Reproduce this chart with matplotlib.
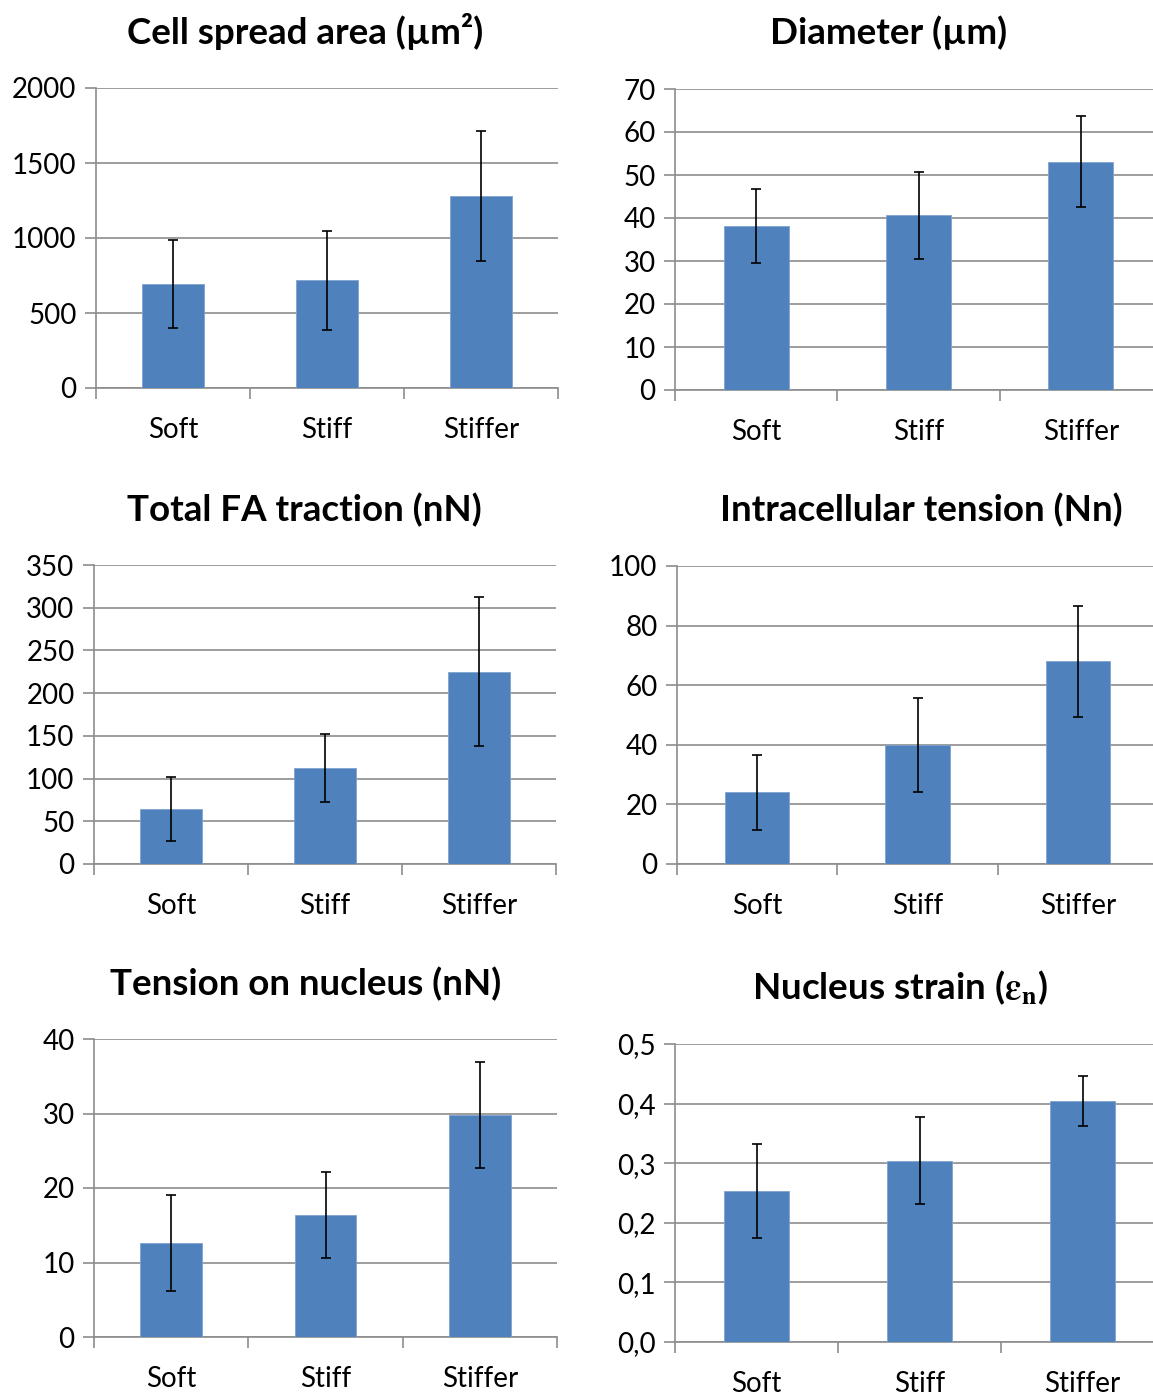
import numpy as np
import matplotlib
matplotlib.use('Agg')
import matplotlib.pyplot as plt
from matplotlib.ticker import FuncFormatter

plt.rcParams['font.family'] = ['Lato', 'DejaVu Sans']
plt.rcParams['mathtext.fontset'] = 'stix'

categories = ['Soft', 'Stiff', 'Stiffer']

area = [693, 720, 1278]
area_err = [293, 330, 433]
diameter = [38.2, 40.6, 53.1]
diameter_err = [8.6, 10.2, 10.6]
traction = [64.5, 112.5, 225]
traction_err = [37, 40, 87]
tension = [24, 40, 68]
tension_err = [12.6, 15.7, 18.6]
nuc_tension = [12.6, 16.4, 29.8]
nuc_tension_err = [6.4, 5.8, 7.1]
strain = [0.253, 0.304, 0.405]
strain_err = [0.079, 0.073, 0.042]

titles = ['Cell spread area (µm²)', 'Diameter (µm)', 'Total FA traction (nN)',
          'Intracellular tension (Nn)', 'Tension on nucleus (nN)',
          r'Nucleus strain ($\mathbf{\varepsilon_n}$)']
series = [(area, area_err), (diameter, diameter_err), (traction, traction_err),
          (tension, tension_err), (nuc_tension, nuc_tension_err), (strain, strain_err)]
ylims = [(0, 2000, 500), (0, 70, 10), (0, 350, 50), (0, 100, 20), (0, 40, 10), (0, 0.5, 0.1)]

W, H = 1153, 1396
fig = plt.figure(figsize=(W / 100, H / 100), dpi=100)

# axes boxes in pixels: left, right, top, bottom (right column runs past the edge)
boxes = [(96, 558, 88, 388), (675, 1162, 89, 390),
         (94, 556, 565, 864), (677, 1158, 566, 864),
         (94, 557, 1039, 1337), (675, 1164, 1044, 1342)]
title_pos = [(305, 31), (889, 33), (304, 510), (921, 510), (306, 984), (900, 988)]

bar_color = '#4F81BD'
grid_color = '#8c8c8c'

for i in range(6):
    l, r, t, b = boxes[i]
    ax = fig.add_axes([l / W, 1 - b / H, (r - l) / W, (b - t) / H])
    vals, errs = series[i]
    x = np.arange(len(categories))
    ax.bar(x, vals, width=0.4, color=bar_color, edgecolor='#7fa3d1', linewidth=0.6, zorder=3)
    ax.errorbar(x, vals, yerr=errs, fmt='none', ecolor='black', elinewidth=1.2,
                capsize=3.6, capthick=1.2, zorder=4)
    lo, hi, step = ylims[i]
    ax.set_ylim(lo, hi)
    ax.set_xlim(-0.5, 2.5)
    yt = np.arange(lo, hi + step / 2, step)
    ax.set_yticks(yt)
    if i == 5:
        ax.yaxis.set_major_formatter(FuncFormatter(lambda v, p: ('%.1f' % v).replace('.', ',')))
    ax.yaxis.grid(True, color=grid_color, linewidth=1.2, zorder=0)
    ax.set_axisbelow(True)
    for s in ['top', 'right']:
        ax.spines[s].set_visible(False)
    for s in ['left', 'bottom']:
        ax.spines[s].set_color(grid_color)
        ax.spines[s].set_linewidth(1.2)
    ax.set_xticks([-0.5, 0.5, 1.5, 2.5])
    ax.set_xticklabels([])
    ax.set_xticks(x, minor=True)
    ax.set_xticklabels(categories, minor=True)
    ax.tick_params(axis='x', which='major', length=8, width=1.2, color=grid_color)
    ax.tick_params(axis='x', which='minor', length=0, pad=21, labelsize=20)
    ax.tick_params(axis='y', length=8, width=1.2, color=grid_color, labelsize=20, pad=6)
    tx, ty = title_pos[i]
    fig.text(tx / W, 1 - ty / H, titles[i], ha='center', va='center',
             fontsize=26.5, fontweight='bold')

fig.savefig('out.png', dpi=100)
